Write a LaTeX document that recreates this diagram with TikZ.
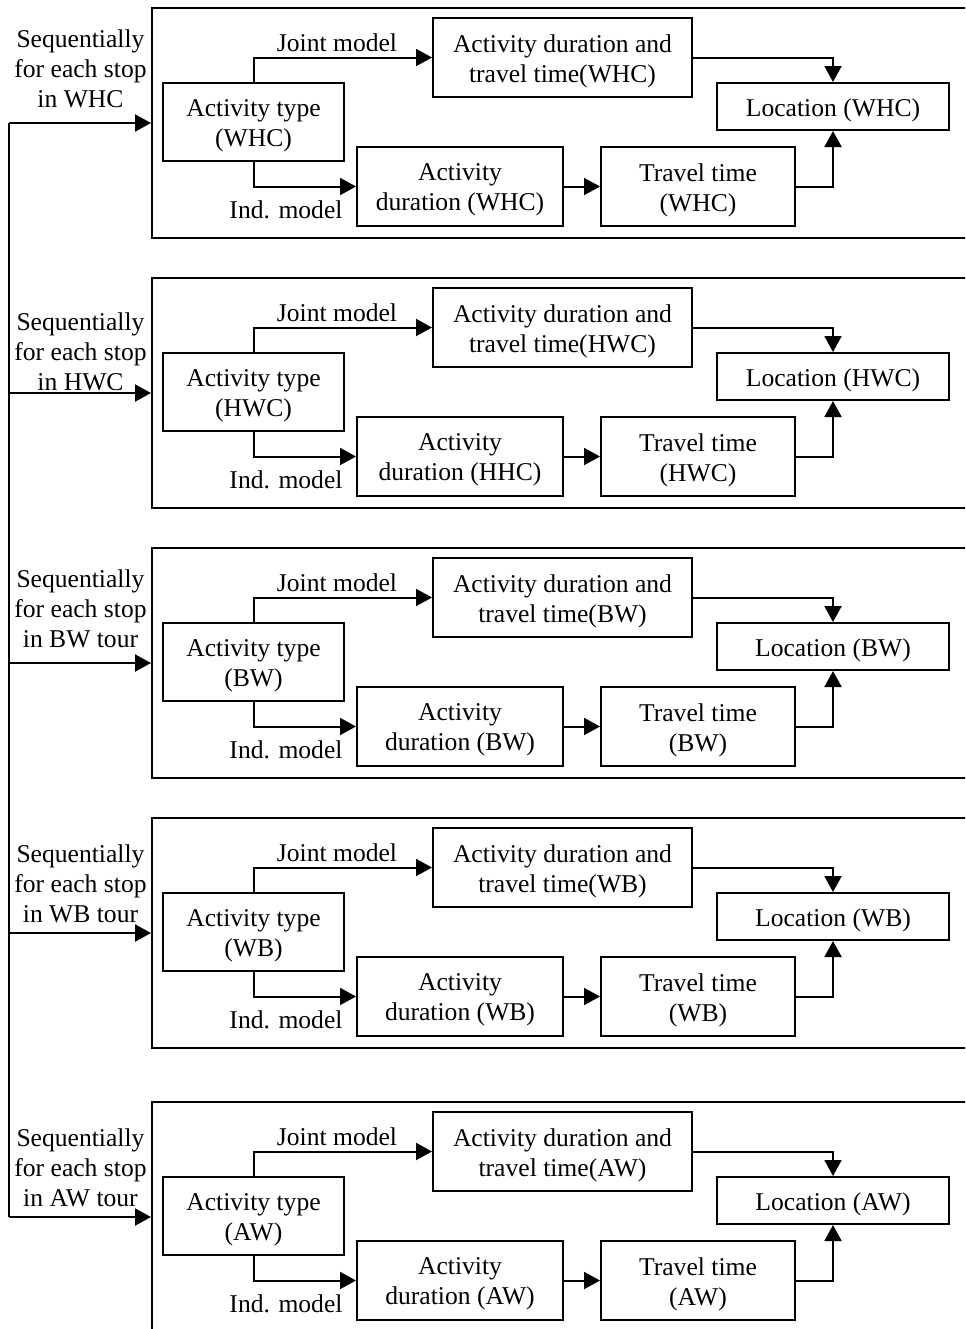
\documentclass[tikz,border=0pt]{standalone}
\usepackage{fontspec}
\setmainfont{Liberation Serif}
\usetikzlibrary{arrows.meta}
\begin{document}
\begin{tikzpicture}[x=0.5pt,y=-0.5pt,
  every node/.style={font=\fontsize{12.8}{15}\selectfont, align=center, inner sep=0pt},
  box/.style={draw, line width=1pt},
  boxtext/.style={label={[yshift=-1.8pt]center:#1}},
  frame/.style={draw, line width=1pt, anchor=north west, minimum width=419.5pt, minimum height=115pt},
  arr/.style={line width=1pt, -{Triangle[length=8pt,width=8.5pt]}},
  conn/.style={line width=1pt}]
\useasboundingbox (0,0) rectangle (965,1329);
\clip (0,0) rectangle (965,1329);
\coordinate (bus) at (9,0);
\foreach \k/\off/\loff/\tg/\adtg/\last in {
  1/0/69/WHC/WHC/in WHC,
  2/270/352/HWC/HHC/in HWC,
  3/540/609/BW/BW/in BW tour,
  4/810/884/WB/WB/in WB tour,
  5/1094/1168/AW/AW/in AW tour}{
  % one stage: outer frame with its five model boxes
  \begin{scope}[shift={(0,\off)}]
    \node[frame] (f\k) at (151,7) {};
    \node[box, minimum width=90.5pt, minimum height=39pt,
      boxtext={Activity type\\(\tg)}] (at\k) at (253.5,122) {};
    \node[box, minimum width=129.5pt, minimum height=39.5pt,
      boxtext={Activity duration and\\travel time(\tg)}] (adtt\k) at (562.5,57.5) {};
    \node[box, minimum width=116pt, minimum height=23.5pt,
      boxtext={Location (\tg)}] (loc\k) at (833,106.5) {};
    \node[box, minimum width=103pt, minimum height=39.5pt,
      boxtext={Activity\\duration (\adtg)}] (ad\k) at (460,186.5) {};
    \node[box, minimum width=97pt, minimum height=39.5pt,
      boxtext={Travel time\\(\tg)}] (tt\k) at (698,186.5) {};
    \node (jm\k) at (337,43) {Joint model};
    \node (im\k) at (286,210) {Ind. model};
    \draw[arr] (at\k.north) |- (adtt\k.west);
    \draw[arr] (at\k.south) |- (ad\k.west);
    \draw[arr] (adtt\k.east) -| (loc\k.north);
    \draw[arr] (ad\k) -- (tt\k);
    \draw[arr] (tt\k.east) -| (loc\k.south);
  \end{scope}
  \node (seq\k) at (80.5,\loff) {Sequentially\\for each stop\\\last};
  \draw[arr] (f\k.west -| bus) -- (f\k.west);
}
\draw[conn] (f1.west -| bus) -- (f5.west -| bus);
\end{tikzpicture}
\end{document}
